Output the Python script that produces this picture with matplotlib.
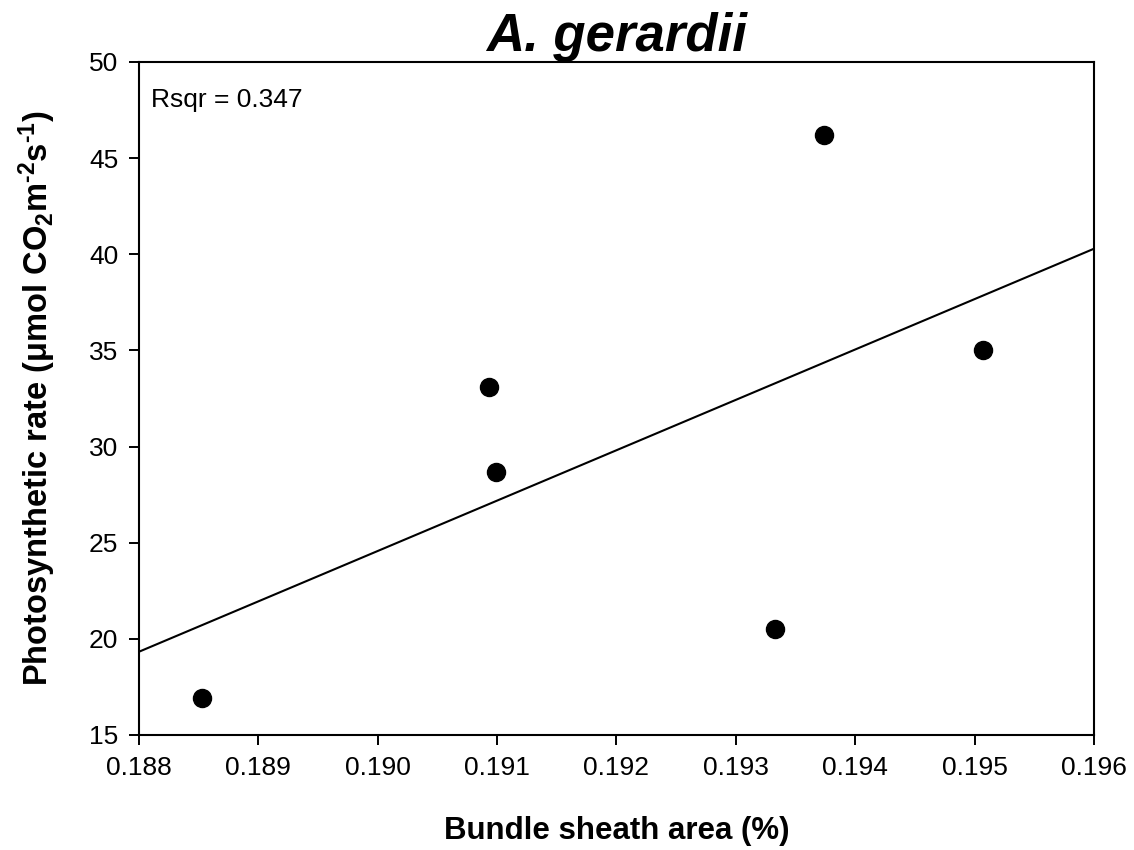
import matplotlib
matplotlib.use("Agg")
import matplotlib.pyplot as plt
import numpy as np

plt.rcParams['font.family'] = ['Liberation Sans', 'DejaVu Sans']
plt.rcParams['mathtext.fontset'] = 'custom'
plt.rcParams['mathtext.rm'] = 'Liberation Sans:bold'
plt.rcParams['mathtext.default'] = 'regular'

# bundle sheath area (%) vs photosynthetic rate
bundle_sheath = [0.18853, 0.19093, 0.19099, 0.19333, 0.19374, 0.19507]
photo_rate = [16.9, 33.1, 28.7, 20.5, 46.2, 35.0]
rsqr = 0.347

x_ticks = [0.188, 0.189, 0.190, 0.191, 0.192, 0.193, 0.194, 0.195, 0.196]
y_ticks = [15, 20, 25, 30, 35, 40, 45, 50]

fig = plt.figure(figsize=(11.34, 8.5), dpi=100)
ax = fig.add_axes([0.1226, 0.1353, 0.8421, 0.7918])

# linear regression over the full x range
slope, intercept = np.polyfit(bundle_sheath, photo_rate, 1)
xfit = np.array([x_ticks[0], x_ticks[-1]])
ax.plot(xfit, slope * xfit + intercept, color="k", lw=1.5)

ax.plot(bundle_sheath, photo_rate, "o", color="k", markersize=13, zorder=3)

ax.set_xlim(x_ticks[0], x_ticks[-1])
ax.set_ylim(y_ticks[0], y_ticks[-1])
ax.set_xticks(x_ticks)
ax.set_xticklabels([f"{v:.3f}" for v in x_ticks])
ax.set_yticks(y_ticks)
ax.tick_params(direction="out", length=7, width=1.4, labelsize=19, pad=8,
               top=False, right=False)
for sp in ax.spines.values():
    sp.set_linewidth(1.5)

ax.text(0.0125, 0.962, f"Rsqr = {rsqr:.3f}", transform=ax.transAxes,
        fontsize=19, va="top", ha="left")

ax.set_title("A. gerardii", fontsize=38, fontweight="bold", style="italic", pad=-1)
ax.set_xlabel("Bundle sheath area (%)", fontsize=22.5, fontweight="bold", labelpad=26)
ax.set_ylabel(r"Photosynthetic rate ($\mu$mol CO$_2$m$^{\text{-}2}$s$^{\text{-}1}$)",
              fontsize=23.5, fontweight="bold")
ax.yaxis.set_label_coords(-0.085, 0.5)

fig.savefig("out.png", dpi=100)
